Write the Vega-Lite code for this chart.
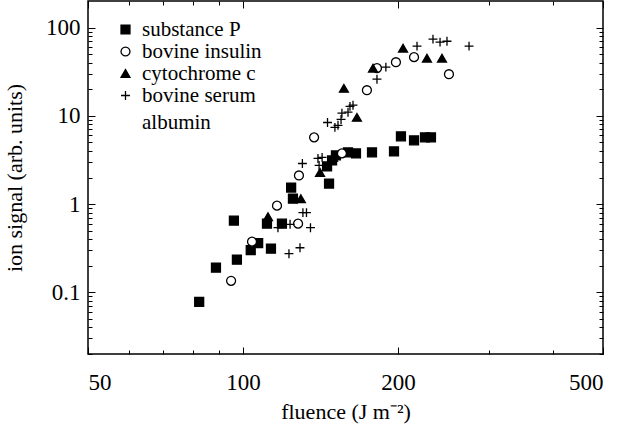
{
  "$schema": "https://vega.github.io/schema/vega-lite/v6.json",
  "width": 515,
  "height": 353,
  "autosize": {"type": "none"},
  "padding": {"left": 88, "top": 1, "right": 21, "bottom": 73},
  "background": "white",
  "config": {
    "view": {"stroke": "black", "strokeWidth": 1.5},
    "font": "Liberation Serif, Times New Roman, serif",
    "axis": {"labelFont": "Liberation Serif, Times New Roman, serif", "labelFontSize": 23, "labelColor": "black", "titleFont": "Liberation Serif, Times New Roman, serif", "titleFontSize": 22, "titleFontWeight": "normal", "titleColor": "black", "tickColor": "black", "grid": false, "domain": false},
    "legend": {"labelFont": "Liberation Serif, Times New Roman, serif", "labelFontSize": 21, "labelColor": "black"}
  },
  "resolve": {"axis": {"x": "independent", "y": "independent"}},
  "layer": [
    {
      "data": {"values": [
        {"series": "substance P", "fluence": 82.2, "signal": 0.078},
        {"series": "substance P", "fluence": 88.6, "signal": 0.19},
        {"series": "substance P", "fluence": 96.0, "signal": 0.65},
        {"series": "substance P", "fluence": 97.3, "signal": 0.234},
        {"series": "substance P", "fluence": 103.5, "signal": 0.30},
        {"series": "substance P", "fluence": 107.0, "signal": 0.36},
        {"series": "substance P", "fluence": 111.3, "signal": 0.60},
        {"series": "substance P", "fluence": 113.3, "signal": 0.312},
        {"series": "substance P", "fluence": 119.0, "signal": 0.60},
        {"series": "substance P", "fluence": 124.0, "signal": 1.54},
        {"series": "substance P", "fluence": 125.0, "signal": 1.15},
        {"series": "substance P", "fluence": 145.6, "signal": 2.67},
        {"series": "substance P", "fluence": 146.9, "signal": 1.71},
        {"series": "substance P", "fluence": 148.9, "signal": 3.12},
        {"series": "substance P", "fluence": 151.5, "signal": 3.56},
        {"series": "substance P", "fluence": 159.9, "signal": 3.85},
        {"series": "substance P", "fluence": 165.7, "signal": 3.75},
        {"series": "substance P", "fluence": 178.0, "signal": 3.85},
        {"series": "substance P", "fluence": 196.4, "signal": 3.95},
        {"series": "substance P", "fluence": 202.6, "signal": 5.85},
        {"series": "substance P", "fluence": 214.8, "signal": 5.27},
        {"series": "substance P", "fluence": 225.6, "signal": 5.7},
        {"series": "substance P", "fluence": 231.7, "signal": 5.7},
        {"series": "bovine insulin", "fluence": 94.8, "signal": 0.135},
        {"series": "bovine insulin", "fluence": 104.1, "signal": 0.375},
        {"series": "bovine insulin", "fluence": 116.4, "signal": 0.96},
        {"series": "bovine insulin", "fluence": 127.9, "signal": 0.60},
        {"series": "bovine insulin", "fluence": 128.4, "signal": 2.11},
        {"series": "bovine insulin", "fluence": 137.4, "signal": 5.7},
        {"series": "bovine insulin", "fluence": 155.6, "signal": 3.75},
        {"series": "bovine insulin", "fluence": 174.0, "signal": 19.5},
        {"series": "bovine insulin", "fluence": 182.0, "signal": 34.7},
        {"series": "bovine insulin", "fluence": 198.1, "signal": 40.5},
        {"series": "bovine insulin", "fluence": 214.8, "signal": 46.2},
        {"series": "bovine insulin", "fluence": 251.1, "signal": 29.6},
        {"series": "cytochrome c", "fluence": 111.8, "signal": 0.72},
        {"series": "cytochrome c", "fluence": 129.5, "signal": 1.15},
        {"series": "cytochrome c", "fluence": 141.1, "signal": 2.28},
        {"series": "cytochrome c", "fluence": 149.5, "signal": 3.38},
        {"series": "cytochrome c", "fluence": 157.0, "signal": 20.5},
        {"series": "cytochrome c", "fluence": 166.4, "signal": 9.61},
        {"series": "cytochrome c", "fluence": 178.8, "signal": 34.7},
        {"series": "cytochrome c", "fluence": 204.5, "signal": 58.4},
        {"series": "cytochrome c", "fluence": 227.6, "signal": 45},
        {"series": "cytochrome c", "fluence": 243.4, "signal": 45},
        {"series": "bovine serum albumin", "fluence": 116.9, "signal": 0.54},
        {"series": "bovine serum albumin", "fluence": 122.8, "signal": 0.274},
        {"series": "bovine serum albumin", "fluence": 123.4, "signal": 0.59},
        {"series": "bovine serum albumin", "fluence": 129.0, "signal": 0.32},
        {"series": "bovine serum albumin", "fluence": 130.7, "signal": 0.80},
        {"series": "bovine serum albumin", "fluence": 132.8, "signal": 0.80},
        {"series": "bovine serum albumin", "fluence": 135.2, "signal": 0.54},
        {"series": "bovine serum albumin", "fluence": 130.4, "signal": 2.88},
        {"series": "bovine serum albumin", "fluence": 139.8, "signal": 3.29},
        {"series": "bovine serum albumin", "fluence": 140.5, "signal": 2.74},
        {"series": "bovine serum albumin", "fluence": 142.4, "signal": 3.38},
        {"series": "bovine serum albumin", "fluence": 145.9, "signal": 8.4},
        {"series": "bovine serum albumin", "fluence": 150.8, "signal": 7.4},
        {"series": "bovine serum albumin", "fluence": 152.9, "signal": 7.8},
        {"series": "bovine serum albumin", "fluence": 155.0, "signal": 9.1},
        {"series": "bovine serum albumin", "fluence": 155.6, "signal": 10.7},
        {"series": "bovine serum albumin", "fluence": 159.9, "signal": 11.0},
        {"series": "bovine serum albumin", "fluence": 161.3, "signal": 12.8},
        {"series": "bovine serum albumin", "fluence": 163.5, "signal": 13.2},
        {"series": "bovine serum albumin", "fluence": 182.0, "signal": 26},
        {"series": "bovine serum albumin", "fluence": 189.4, "signal": 35.6},
        {"series": "bovine serum albumin", "fluence": 217.7, "signal": 61.6},
        {"series": "bovine serum albumin", "fluence": 233.8, "signal": 74},
        {"series": "bovine serum albumin", "fluence": 241.3, "signal": 68.4},
        {"series": "bovine serum albumin", "fluence": 248.9, "signal": 70},
        {"series": "bovine serum albumin", "fluence": 274.7, "signal": 61.6}
      ]},
      "mark": {"type": "point", "filled": true, "opacity": 1, "strokeWidth": 1.3, "size": 80},
      "encoding": {
        "x": {"field": "fluence", "type": "quantitative", "scale": {"type": "log", "domain": [50, 500], "nice": false},
          "axis": {"orient": "bottom", "values": [50, 100, 200, 500], "format": "~g", "tickSize": -7, "labelPadding": 24, "title": "fluence (J m⁻²)", "titlePadding": 7}},
        "y": {"field": "signal", "type": "quantitative", "scale": {"type": "log", "domain": [0.02, 200], "nice": false},
          "axis": {"orient": "left", "values": [0.1, 1, 10, 100], "format": "~g", "tickSize": -7, "labelPadding": 15, "title": "ion signal (arb. units)", "titlePadding": 19}},
        "shape": {"field": "series", "type": "nominal",
          "scale": {"domain": ["substance P", "bovine insulin", "cytochrome c", "bovine serum albumin"], "range": ["square", "circle", "triangle-up", "M-1,0L1,0M0,-1L0,1"]},
          "legend": {"orient": "none", "legendX": 27, "legendY": 18, "title": null, "padding": 0, "symbolSize": 80, "symbolStrokeWidth": 1.3, "labelOffset": 6, "rowPadding": 0,
            "labelExpr": "datum.label == 'bovine serum albumin' ? 'bovine serum' : datum.label"}},
        "fill": {"field": "series", "type": "nominal",
          "scale": {"domain": ["substance P", "bovine insulin", "cytochrome c", "bovine serum albumin"], "range": ["black", "white", "black", "black"]}},
        "stroke": {"field": "series", "type": "nominal",
          "scale": {"domain": ["substance P", "bovine insulin", "cytochrome c", "bovine serum albumin"], "range": ["black", "black", "black", "black"]}}
      }
    },
    {
      "data": {"values": [{"note": "albumin", "fluence": 100, "signal": 1}]},
      "mark": {"type": "point", "size": 80, "opacity": 0},
      "encoding": {
        "x": {"field": "fluence", "type": "quantitative", "scale": {"type": "log", "domain": [50, 500], "nice": false},
          "axis": {"orient": "bottom", "values": [60, 70, 80, 90, 300, 400], "labels": false, "tickSize": -4, "title": null}},
        "y": {"field": "signal", "type": "quantitative", "scale": {"type": "log", "domain": [0.02, 200], "nice": false},
          "axis": {"orient": "left", "values": [0.02, 0.03, 0.04, 0.05, 0.06, 0.07, 0.08, 0.09, 0.2, 0.3, 0.4, 0.5, 0.6, 0.7, 0.8, 0.9, 2, 3, 4, 5, 6, 7, 8, 9, 20, 30, 40, 50, 60, 70, 80, 90], "labels": false, "tickSize": -4, "title": null}},
        "color": {"field": "note", "type": "nominal", "scale": {"range": ["transparent"]},
          "legend": {"orient": "none", "legendX": 27, "legendY": 111, "title": null, "padding": 0, "symbolSize": 80, "symbolOpacity": 0, "labelOffset": 6}}
      }
    },
    {
      "data": {"values": [{"fluence": 100, "signal": 1}]},
      "mark": {"type": "point", "opacity": 0},
      "encoding": {
        "x": {"field": "fluence", "type": "quantitative", "scale": {"type": "log", "domain": [50, 500], "nice": false},
          "axis": {"orient": "top", "values": [50, 100, 200, 500], "labels": false, "tickSize": -7, "title": null}},
        "y": {"field": "signal", "type": "quantitative", "scale": {"type": "log", "domain": [0.02, 200], "nice": false},
          "axis": {"orient": "right", "values": [0.1, 1, 10, 100], "labels": false, "tickSize": -7, "title": null}}
      }
    },
    {
      "data": {"values": [{"fluence": 100, "signal": 1}]},
      "mark": {"type": "point", "opacity": 0},
      "encoding": {
        "x": {"field": "fluence", "type": "quantitative", "scale": {"type": "log", "domain": [50, 500], "nice": false},
          "axis": {"orient": "top", "values": [60, 70, 80, 90, 300, 400], "labels": false, "tickSize": -4, "title": null}},
        "y": {"field": "signal", "type": "quantitative", "scale": {"type": "log", "domain": [0.02, 200], "nice": false},
          "axis": {"orient": "right", "values": [0.02, 0.03, 0.04, 0.05, 0.06, 0.07, 0.08, 0.09, 0.2, 0.3, 0.4, 0.5, 0.6, 0.7, 0.8, 0.9, 2, 3, 4, 5, 6, 7, 8, 9, 20, 30, 40, 50, 60, 70, 80, 90], "labels": false, "tickSize": -4, "title": null}}
      }
    }
  ]
}
